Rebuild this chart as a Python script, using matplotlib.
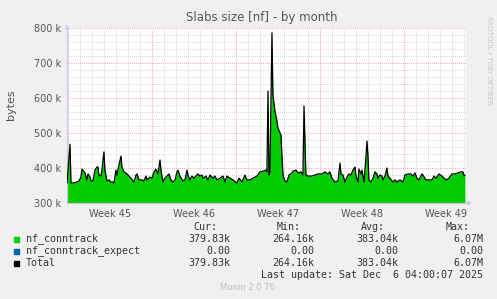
import matplotlib
matplotlib.use("Agg")
import matplotlib.pyplot as plt
import numpy as np

# days since start of week 45, value in k bytes
days = [-0.08, 0.17, 0.25, 0.58, 0.92, 1.08, 1.17, 1.42, 1.58, 1.67, 1.83, 1.92, 2.08, 2.25, 2.42, 2.5,
        2.58, 2.75, 2.83, 3.0, 3.08, 3.25, 3.42, 3.58, 3.75, 3.83, 4.0, 4.08, 4.25, 4.42, 4.5, 4.67,
        4.92, 5.25, 5.5, 5.67, 5.75, 5.92, 6.17, 6.33, 6.5, 6.58, 6.83, 7.0, 7.17, 7.33, 7.5, 7.67,
        7.75, 7.92, 8.08, 8.25, 8.42, 8.58, 8.75, 8.92, 9.08, 9.17, 9.33, 9.58, 9.75, 9.92, 10.0, 10.17,
        10.33, 10.5, 10.67, 10.83, 11.0, 11.17, 11.25, 11.5, 11.67, 11.83, 12.08, 12.25, 12.42, 12.67,
        12.92, 13.08, 13.25, 13.5, 13.75, 14.08, 14.25, 14.5, 14.75, 14.92, 15.17, 15.42, 15.75, 16.0,
        16.25, 16.5, 16.58, 16.67, 16.75, 16.83, 17.0, 17.08, 17.25, 17.42, 17.5, 17.75, 17.83, 17.92,
        18.08, 18.25, 18.42, 18.67, 18.75, 19.0, 19.17, 19.42, 19.58, 19.67, 19.83, 20.0, 20.33, 20.58,
        20.83, 21.17, 21.42, 21.67, 21.83, 22.0, 22.25, 22.5, 22.67, 22.75, 22.92, 23.08, 23.25, 23.42,
        23.58, 23.75, 23.92, 24.0, 24.17, 24.25, 24.42, 24.5, 24.67, 24.83, 24.92, 25.0, 25.08, 25.25,
        25.42, 25.58, 25.75, 25.83, 26.0, 26.17, 26.25, 26.42, 26.58, 26.67, 26.83, 27.08, 27.25, 27.42,
        27.67, 27.92, 28.08, 28.33, 28.58, 28.75, 28.92, 29.08, 29.25, 29.5, 29.58, 29.83, 30.0, 30.33,
        30.5, 30.67, 30.92, 31.17, 31.33, 31.58, 31.75, 32.0, 32.25, 32.5, 32.75, 32.92, 33.0, 33.08]
conntrack_k = [357, 468, 357, 358, 363, 374, 397, 386, 366, 383, 375, 363, 363, 394, 403, 403,
               380, 377, 394, 446, 394, 363, 366, 360, 360, 357, 394, 380, 409, 434, 403, 389,
               383, 371, 360, 380, 383, 366, 366, 363, 377, 366, 374, 371, 389, 397, 383, 423,
               394, 360, 371, 377, 383, 366, 360, 366, 389, 394, 377, 363, 366, 394, 380, 366,
               377, 371, 377, 383, 377, 380, 371, 377, 366, 380, 371, 377, 366, 371,
               377, 360, 377, 371, 366, 357, 371, 360, 380, 366, 366, 371, 377, 389,
               391, 394, 389, 620, 380, 386, 786, 609, 563, 534, 514, 494, 437, 380,
               363, 360, 380, 386, 391, 394, 386, 389, 380, 577, 380, 377, 377, 380,
               383, 383, 389, 383, 389, 371, 360, 363, 414, 383, 380, 360, 374, 383,
               380, 394, 403, 377, 360, 397, 383, 394, 360, 431, 477, 434, 366, 360,
               371, 389, 383, 371, 380, 377, 366, 377, 400, 377, 371, 360, 366, 360,
               366, 360, 380, 383, 383, 377, 386, 371, 366, 383, 380, 366, 366, 366,
               377, 371, 383, 377, 371, 366, 371, 383, 383, 386, 389, 389, 377, 380]

week_starts = [0, 7, 14, 21, 28]
week_labels = ["Week 45", "Week 46", "Week 47", "Week 48", "Week 49"]
yticks_k = [300, 400, 500, 600, 700, 800]

legend_names = ["nf_conntrack", "nf_conntrack_expect", "Total"]
legend_colors = ["#00CC00", "#0066B3", "#000000"]
cur = ["379.83k", "0.00", "379.83k"]
mins = ["264.16k", "0.00", "264.16k"]
avgs = ["383.04k", "0.00", "383.04k"]
maxs = ["6.07M", "0.00", "6.07M"]

bg = "#F0F0F0"
txt = "#555555"

fig = plt.figure(figsize=(4.97, 2.99), dpi=100, facecolor=bg)
ax = fig.add_axes([67 / 497, 96 / 299, 399 / 497, 175 / 299])
ax.set_facecolor("white")

x = np.array(days)
y = np.array(conntrack_k) * 1000
ax.fill_between(x, 300e3, y, color="#00CC00", lw=0, zorder=2)
ax.plot(x, y, color="black", lw=0.9, zorder=3)

ax.set_xlim(-0.08, 33.17)
ax.set_ylim(300e3, 800e3)

# grid
for d in range(0, 34):
    if d in week_starts:
        continue
    ax.axvline(d, color="#C8C8C8", lw=0.6, ls=(0, (1, 1.5)), zorder=1)
for v in range(320, 800, 20):
    if v % 100 == 0:
        continue
    ax.axhline(v * 1000, color="#C8C8C8", lw=0.6, ls=(0, (1, 1.5)), zorder=1)
for d in week_starts:
    ax.axvline(d, color="#E09090", lw=0.6, ls=(0, (1, 1.5)), zorder=1)
for v in yticks_k[1:]:
    ax.axhline(v * 1000, color="#E09090", lw=0.6, ls=(0, (1, 1.5)), zorder=1)

ax.set_yticks([v * 1000 for v in yticks_k])
ax.set_yticklabels([f"{v} k" for v in yticks_k])
ax.set_xticks([w + 3.5 for w in week_starts])
ax.set_xticklabels(week_labels)
ax.tick_params(axis="both", length=0, labelsize=7, colors=txt, pad=4)
ax.tick_params(axis="x", pad=4)
for s in ["top", "right"]:
    ax.spines[s].set_visible(False)
for s in ["left", "bottom"]:
    ax.spines[s].set_color("#C8C8E8")
    ax.spines[s].set_linewidth(0.8)
ax.annotate("", xy=(-0.08, 810e3), xytext=(-0.08, 795e3), annotation_clip=False,
            arrowprops=dict(arrowstyle="-|>", color="#C8C8F0", lw=0.8, mutation_scale=6))
ax.annotate("", xy=(33.9, 300e3), xytext=(33.0, 300e3), annotation_clip=False,
            arrowprops=dict(arrowstyle="-|>", color="#C8C8F0", lw=0.8, mutation_scale=6))

fig.text(262 / 497, 1 - 18 / 299, "Slabs size [nf] - by month", ha="center", va="center",
         fontsize=8.5, color=txt)
fig.text(11 / 497, 1 - 105 / 299, "bytes", rotation=90, ha="center", va="center",
         fontsize=8, color=txt)
fig.text(489 / 497, 1 - 60 / 299, "RRDTOOL / TOBI OETIKER", rotation=270, ha="center", va="center",
         fontsize=5, color="#C8C8C8")

mono = dict(family="DejaVu Sans Mono", fontsize=7.2, color="#333333")
col_ends = [230, 314, 398, 483]
headers = ["Cur:", "Min:", "Avg:", "Max:"]
for xe, h in zip(col_ends, headers):
    fig.text((xe - 13) / 497, 1 - 227 / 299, h, ha="right", va="center", **mono)
rows_y = [239, 251, 263]
for i, name in enumerate(legend_names):
    yy = 1 - rows_y[i] / 299
    fig.patches.append(plt.Rectangle((14 / 497, yy - 2.5 / 299), 5 / 497, 5 / 299,
                                     transform=fig.transFigure, color=legend_colors[i]))
    fig.text(26 / 497, yy, name, ha="left", va="center", **mono)
    for xe, val in zip(col_ends, [cur[i], mins[i], avgs[i], maxs[i]]):
        fig.text(xe / 497, yy, val, ha="right", va="center", **mono)
fig.text(483 / 497, 1 - 275 / 299, "Last update: Sat Dec  6 04:00:07 2025", ha="right",
         va="center", **mono)
fig.text(247 / 497, 1 - 288 / 299, "Munin 2.0.76", ha="center", va="center",
         fontsize=6, color="#C0C0C0")

fig.savefig("out.png", dpi=100, facecolor=bg)
